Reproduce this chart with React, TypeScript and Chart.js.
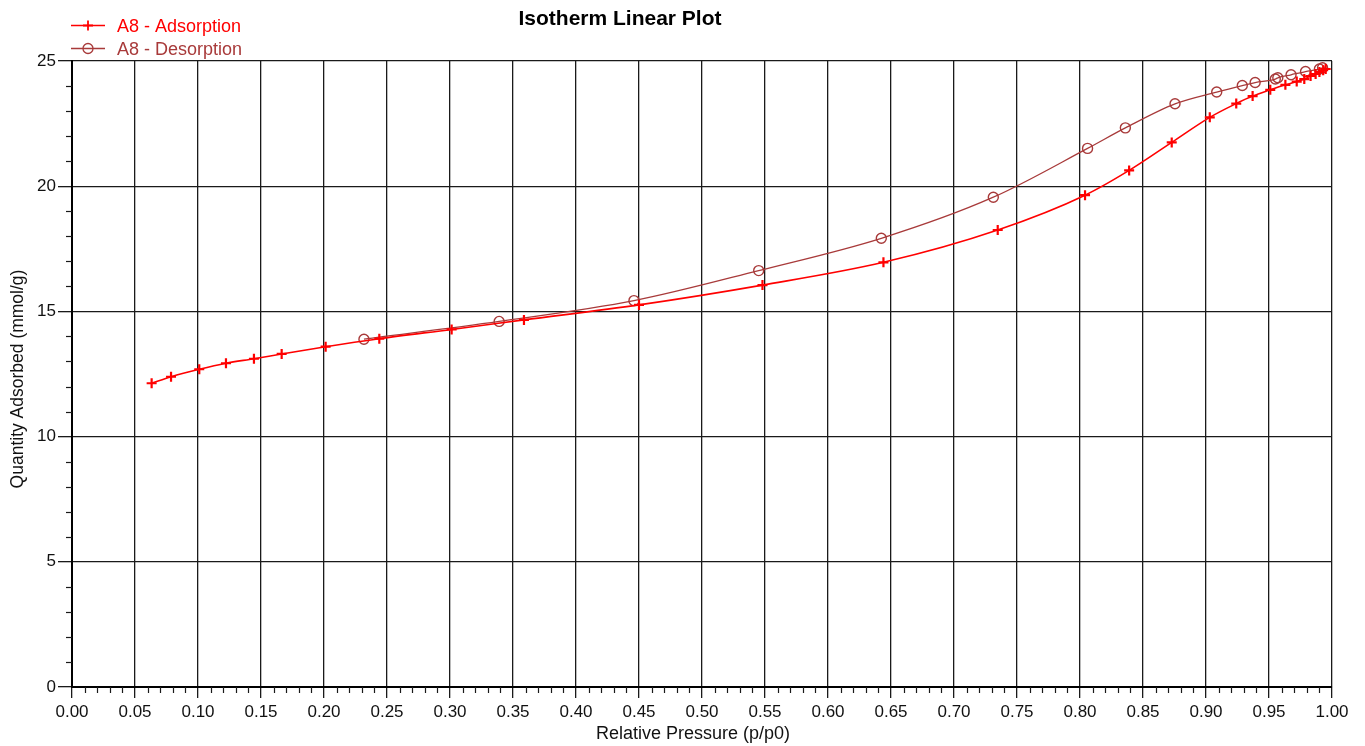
import React, { useEffect, useRef } from 'react';
import { Chart, registerables } from 'chart.js';

Chart.register(...registerables);

// Adsorption branch (relative pressure, quantity adsorbed mmol/g)
const ADS_P = [0.0632, 0.0786, 0.101, 0.1222, 0.1444, 0.1664, 0.2013, 0.2439, 0.3013, 0.3587, 0.450, 0.548, 0.644, 0.7347, 0.804, 0.839, 0.8728, 0.903, 0.924, 0.937, 0.951, 0.963, 0.972, 0.978, 0.983, 0.987, 0.990, 0.993, 0.995];
const ADS_Q = [12.13, 12.39, 12.69, 12.93, 13.11, 13.30, 13.59, 13.91, 14.28, 14.66, 15.26, 16.05, 16.96, 18.25, 19.64, 20.63, 21.75, 22.75, 23.30, 23.60, 23.85, 24.05, 24.18, 24.28, 24.40, 24.48, 24.56, 24.63, 24.68];

// Desorption branch
const DES_P = [0.9925, 0.990, 0.979, 0.9675, 0.957, 0.955, 0.939, 0.9288, 0.9085, 0.8754, 0.836, 0.806, 0.7312, 0.6423, 0.545, 0.446, 0.339, 0.2317];
const DES_Q = [24.73, 24.68, 24.58, 24.45, 24.33, 24.28, 24.14, 24.02, 23.76, 23.29, 22.33, 21.51, 19.56, 17.92, 16.63, 15.43, 14.60, 13.89];

const X_TICKS = [0, 0.05, 0.1, 0.15, 0.2, 0.25, 0.3, 0.35, 0.4, 0.45, 0.5, 0.55, 0.6, 0.65, 0.7, 0.75, 0.8, 0.85, 0.9, 0.95, 1.0];
const Y_TICKS = [0, 5, 10, 15, 20, 25];
const X_MINOR_STEP = 0.01;
const Y_MINOR_STEP = 1;

const TITLE = 'Isotherm Linear Plot';
const X_TITLE = 'Relative Pressure (p/p0)';
const Y_TITLE = 'Quantity Adsorbed (mmol/g)';
const SERIES_NAMES = ['A8 - Adsorption', 'A8 - Desorption'];

const ADS_COLOR = '#ff0000';
const DES_COLOR = '#a83a3a';
const GRID_COLOR = '#1a1a1a';
const FONT = '"Liberation Sans", Arial, sans-serif';

function drawMarker(ctx: CanvasRenderingContext2D, style: string, x: number, y: number, r: number, color: string, lw: number) {
  ctx.save();
  ctx.strokeStyle = color;
  ctx.lineWidth = lw;
  ctx.beginPath();
  if (style === 'cross') {
    ctx.moveTo(x - r, y);
    ctx.lineTo(x + r, y);
    ctx.moveTo(x, y - r);
    ctx.lineTo(x, y + r);
  } else {
    ctx.arc(x, y, r, 0, Math.PI * 2);
  }
  ctx.stroke();
  ctx.restore();
}

const decorPlugin = {
  id: 'decor',
  afterDraw(chart: any) {
    const ctx: CanvasRenderingContext2D = chart.ctx;
    const xs = chart.scales.x;
    const ys = chart.scales.y;
    const area = chart.chartArea;
    ctx.save();
    // minor ticks
    ctx.strokeStyle = GRID_COLOR;
    ctx.lineWidth = 1.2;
    const nx = Math.round((xs.max - xs.min) / X_MINOR_STEP);
    for (let i = 0; i <= nx; i++) {
      if (i % 5 === 0) continue;
      const v = xs.min + i * X_MINOR_STEP;
      const px = Math.round(xs.getPixelForValue(v)) + 0.5;
      ctx.beginPath();
      ctx.moveTo(px, area.bottom);
      ctx.lineTo(px, area.bottom + 6);
      ctx.stroke();
    }
    const ny = Math.round((ys.max - ys.min) / Y_MINOR_STEP);
    for (let i = 0; i <= ny; i++) {
      if (i % 5 === 0) continue;
      const v = ys.min + i * Y_MINOR_STEP;
      const py = Math.round(ys.getPixelForValue(v)) + 0.5;
      ctx.beginPath();
      ctx.moveTo(area.left - 6, py);
      ctx.lineTo(area.left, py);
      ctx.stroke();
    }

    // title
    ctx.fillStyle = '#000';
    ctx.font = `bold 21px ${FONT}`;
    ctx.textAlign = 'center';
    ctx.textBaseline = 'alphabetic';
    ctx.fillText(TITLE, 620, 25);

    // axis titles
    ctx.font = `18px ${FONT}`;
    ctx.fillStyle = '#111';
    ctx.fillText(X_TITLE, 693, 739);
    ctx.save();
    ctx.translate(23, 379);
    ctx.rotate(-Math.PI / 2);
    ctx.font = `17.5px ${FONT}`;
    ctx.fillText(Y_TITLE, 0, 0);
    ctx.restore();

    // legend
    const rows = [
      { y: 25, color: ADS_COLOR, style: 'cross', r: 5, lw: 1.8, textY: 32 },
      { y: 48, color: DES_COLOR, style: 'circle', r: 5, lw: 1.3, textY: 55 },
    ];
    rows.forEach((row, i) => {
      ctx.strokeStyle = row.color;
      ctx.lineWidth = 1.4;
      ctx.beginPath();
      ctx.moveTo(71, row.y + 0.5);
      ctx.lineTo(105, row.y + 0.5);
      ctx.stroke();
      drawMarker(ctx, row.style, 88, row.y + 0.5, row.r, row.color, row.lw);
      ctx.fillStyle = row.color;
      ctx.font = `18px ${FONT}`;
      ctx.textAlign = 'left';
      ctx.fillText(SERIES_NAMES[i], 117, row.textY);
    });
    ctx.restore();
  },
};

export default function App() {
  const ref = useRef<HTMLCanvasElement | null>(null);
  useEffect(() => {
    if (!ref.current) return;
    Chart.defaults.font.family = FONT;
    const chart = new Chart(ref.current, {
      type: 'line',
      data: {
        datasets: [
          {
            label: SERIES_NAMES[0],
            data: ADS_P.map((p, i) => ({ x: p, y: ADS_Q[i] })),
            borderColor: ADS_COLOR,
            backgroundColor: 'transparent',
            borderWidth: 1.6,
            pointStyle: 'cross',
            pointRadius: 5,
            pointBorderWidth: 2.2,
            pointBorderColor: ADS_COLOR,
            cubicInterpolationMode: 'monotone',
            fill: false,
            order: 1,
          },
          {
            label: SERIES_NAMES[1],
            data: DES_P.map((p, i) => ({ x: p, y: DES_Q[i] })),
            borderColor: DES_COLOR,
            backgroundColor: 'transparent',
            borderWidth: 1.3,
            pointStyle: 'circle',
            pointRadius: 5,
            pointBorderWidth: 1.4,
            pointBorderColor: DES_COLOR,
            pointBackgroundColor: 'transparent',
            cubicInterpolationMode: 'monotone',
            fill: false,
            order: 2,
          },
        ],
      },
      options: {
        animation: false,
        responsive: false,
        devicePixelRatio: 1,
        layout: { padding: { top: 61, right: 33, left: 0, bottom: 0 } },
        plugins: {
          legend: { display: false },
          title: { display: false },
          tooltip: { enabled: false },
        },
        scales: {
          x: {
            type: 'linear',
            min: 0,
            max: 1,
            afterBuildTicks: (s: any) => {
              s.ticks = X_TICKS.map((v) => ({ value: v }));
            },
            afterFit: (s: any) => {
              s.height = 59;
            },
            ticks: {
              autoSkip: false,
              maxRotation: 0,
              padding: 4,
              color: '#111',
              font: { size: 17, family: FONT },
              callback: (v: any) => Number(v).toFixed(2),
            },
            grid: { color: GRID_COLOR, lineWidth: 1.3, tickLength: 11 },
            border: { color: '#000', width: 2 },
          },
          y: {
            type: 'linear',
            min: 0,
            max: 25,
            afterBuildTicks: (s: any) => {
              s.ticks = Y_TICKS.map((v) => ({ value: v }));
            },
            afterFit: (s: any) => {
              s.width = 72;
            },
            ticks: {
              padding: 2,
              color: '#111',
              font: { size: 17, family: FONT },
              callback: (v: any) => String(v),
            },
            grid: { color: GRID_COLOR, lineWidth: 1.3, tickLength: 14 },
            border: { color: '#000', width: 2 },
          },
        },
      },
      plugins: [decorPlugin],
    });
    return () => chart.destroy();
  }, []);
  return (
    <div style={{ position: 'absolute', left: 0, top: 0 }}>
      <canvas ref={ref} width={1365} height={746} style={{ display: 'block' }} />
    </div>
  );
}
